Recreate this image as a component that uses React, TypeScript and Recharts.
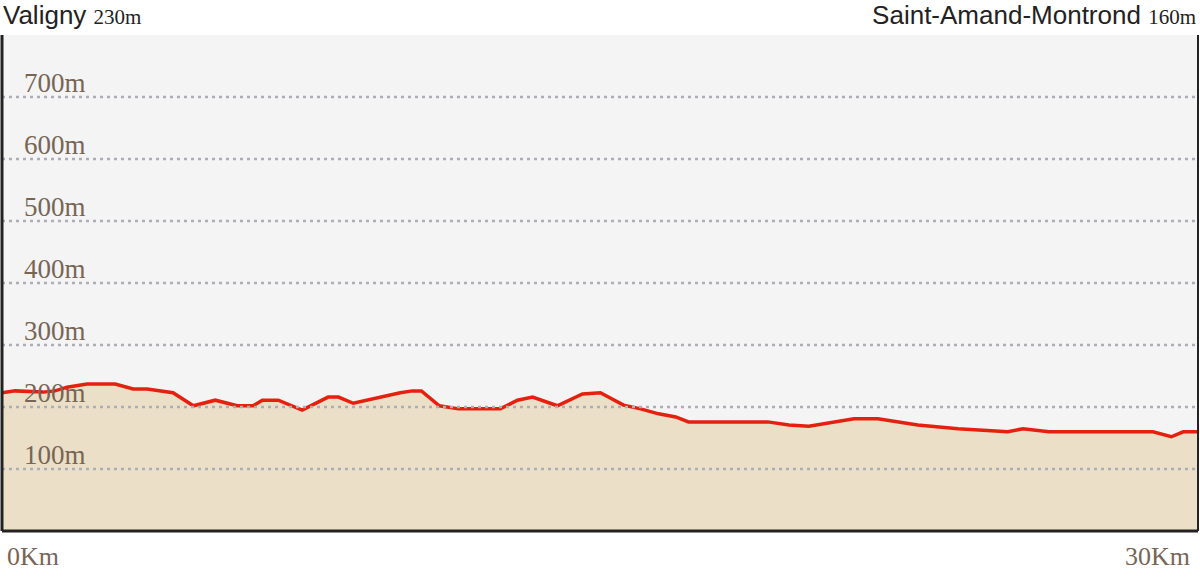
import React from "react";
import {
  AreaChart,
  Area,
  XAxis,
  YAxis,
  CartesianGrid,
  ReferenceLine,
} from "recharts";

// distance (km) and elevation (m)
const distances = [
  0, 0.33, 1.03, 1.33, 1.63, 2.13, 2.84, 3.29, 3.64, 4.29, 4.8, 5.35, 5.9, 6.3,
  6.53, 6.93, 7.53, 8.18, 8.44, 8.81, 9.99, 10.29, 10.52, 10.97, 11.45, 12.5,
  12.93, 13.31, 13.93, 14.56, 15.01, 15.59, 16.02, 16.47, 16.9, 17.22, 19.21,
  19.74, 20.24, 21.37, 21.97, 22.97, 23.98, 25.23, 25.61, 26.26, 28.87, 29.33,
  29.63, 30,
];
const elevations = [
  223, 226, 224, 226, 232, 237, 237, 229, 229, 223, 202, 211, 202, 202, 211,
  211, 195, 216, 216, 206, 223, 226, 226, 202, 197, 197, 211, 216, 202, 221,
  223, 203, 197, 189, 184, 176, 176, 171, 169, 181, 181, 171, 165, 160, 165,
  160, 160, 152, 160, 160,
];
const gridLevels = [100, 200, 300, 400, 500, 600, 700];
const kmTicks = [0, 30];

const start = { name: "Valigny", alt: "230m" };
const finish = { name: "Saint-Amand-Montrond", alt: "160m" };

const data = distances.map((km, i) => ({ km, elev: elevations[i] }));

const labelColor = "#776655";
const borderColor = "#222";
const serif = "'Liberation Serif', 'Times New Roman', serif";
const sans = "'Liberation Sans', Arial, sans-serif";

const KmTick = (props: any) => {
  const { x, y, payload } = props;
  const first = payload.value === 0;
  return (
    <text
      x={first ? x + 5 : x - 8}
      y={y + 26}
      textAnchor={first ? "start" : "end"}
      fill={labelColor}
      fontFamily={serif}
      fontSize={26}
    >
      {payload.value}Km
    </text>
  );
};

const levelLabel = (value: number) => (props: any) => {
  const { viewBox } = props;
  return (
    <text
      x={viewBox.x + 22}
      y={viewBox.y - 5}
      fill={labelColor}
      fontFamily={serif}
      fontSize={27}
    >
      {value}m
    </text>
  );
};

export default function App() {
  return (
    <div style={{ position: "relative", width: 1200, height: 581 }}>
      <style>{`body{margin:0}`}</style>
      <AreaChart
        width={1200}
        height={581}
        data={data}
        margin={{ top: 35, right: 2, left: 2, bottom: 20 }}
      >
        <CartesianGrid fill="#f4f4f4" horizontal={false} vertical={false} />
        <XAxis
          dataKey="km"
          type="number"
          domain={[0, 30]}
          ticks={kmTicks}
          interval={0}
          tick={<KmTick />}
          tickLine={false}
          axisLine={{ stroke: borderColor, strokeWidth: 3 }}
          height={30}
          allowDataOverflow
        />
        <YAxis domain={[0, 800]} width={0} tick={false} axisLine={false} />
        <Area
          type="linear"
          dataKey="elev"
          stroke="#e5200f"
          strokeWidth={3.5}
          fill="#ecdfc7"
          fillOpacity={1}
          isAnimationActive={false}
        />
        {gridLevels.map((v) => (
          <ReferenceLine
            key={v}
            y={v}
            stroke="#adadb5"
            strokeWidth={2.5}
            strokeDasharray="3 4"
            label={levelLabel(v)}
          />
        ))}
        <ReferenceLine x={0} stroke={borderColor} strokeWidth={3} />
        <ReferenceLine x={30} stroke={borderColor} strokeWidth={2} />
      </AreaChart>
      <svg
        width={1200}
        height={34}
        style={{ position: "absolute", left: 0, top: 0, pointerEvents: "none" }}
      >
        <text x={3} y={24} fill="#222">
          <tspan fontFamily={sans} fontSize={26}>{start.name} </tspan>
          <tspan fontFamily={serif} fontSize={21}>{start.alt}</tspan>
        </text>
        <text x={1196} y={24} fill="#222" textAnchor="end">
          <tspan fontFamily={sans} fontSize={26}>{finish.name} </tspan>
          <tspan fontFamily={serif} fontSize={21}>{finish.alt}</tspan>
        </text>
      </svg>
    </div>
  );
}
